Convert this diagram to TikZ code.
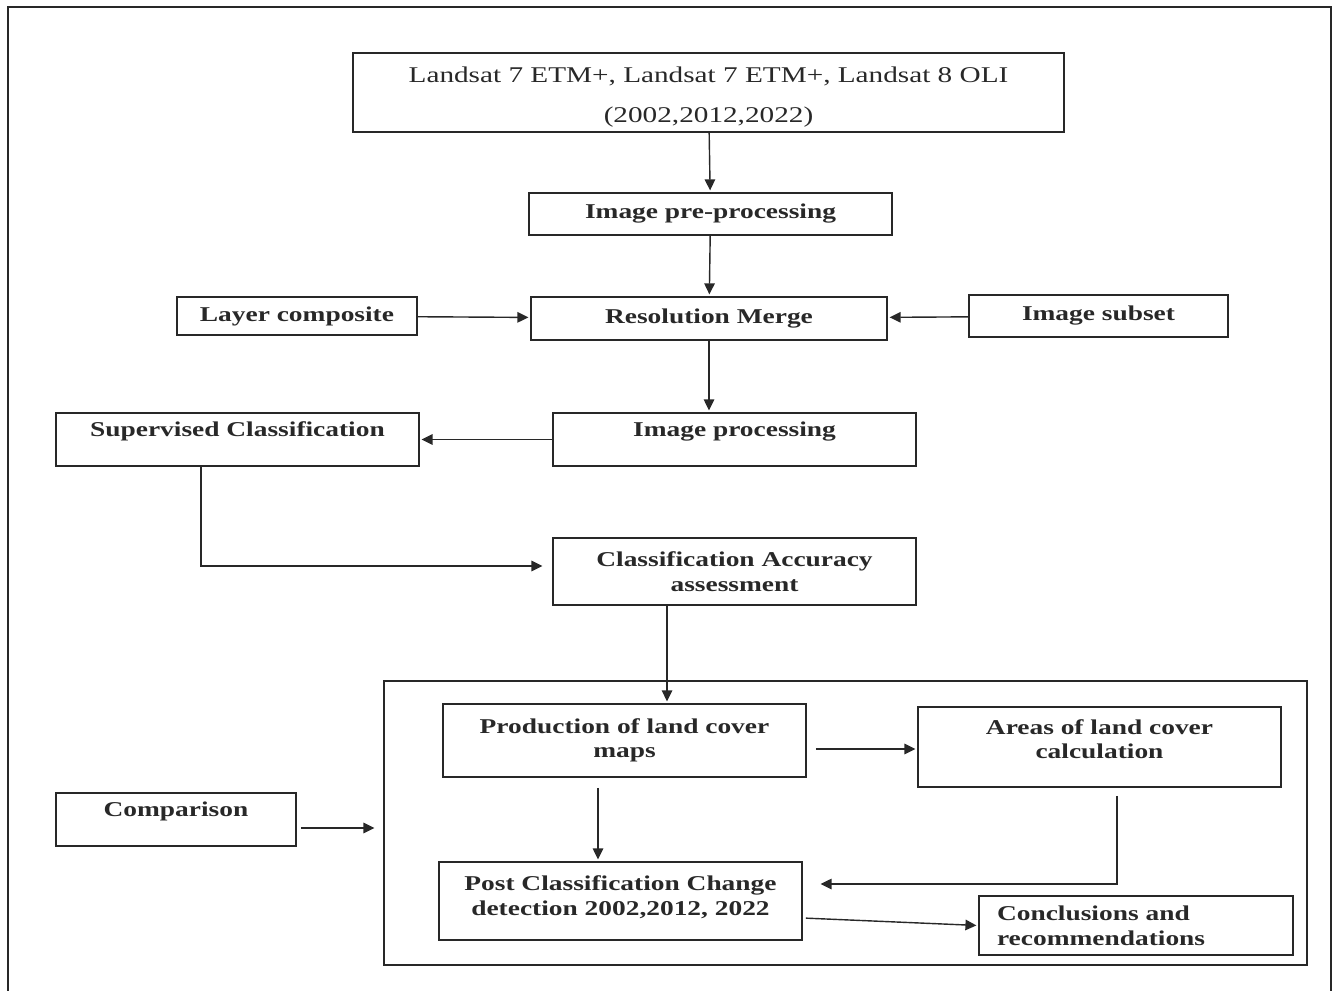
\documentclass[tikz,border=0pt]{standalone}
\usepackage{fontspec}
\setmainfont{Liberation Serif}[FakeStretch=1.3]
\usepackage{tikz}
\usetikzlibrary{arrows.meta,positioning}
\definecolor{lcink}{RGB}{40,40,40}

\begin{document}
\begin{tikzpicture}[x=0.02cm, y=-0.02cm,
  box/.style={rectangle, draw=lcink, line width=1pt, text=lcink, align=center,
              font=\fontsize{12}{14}\selectfont\bfseries, inner sep=3pt},
  raised/.style={text depth=11.5pt},
  frame/.style={rectangle, draw=lcink, line width=1pt, minimum width=18.46cm, minimum height=5.68cm},
  arr/.style={-{Triangle[length=2.2mm, width=2.1mm]}, line width=0.8pt, lcink, shorten >=1pt}]

\useasboundingbox (0,0) rectangle (1334,990);
\draw[lcink, line width=1pt] (8,1000) -- (8,7) -- (1331,7) -- (1331,1000);

\node[box, minimum width=14.22cm, minimum height=1.5cm, font=\fontsize{12.8}{22.8}\selectfont]
  (src) at (708.5,92.5) {\mbox{}\\[-9pt]Landsat 7 ETM+, Landsat 7 ETM+, Landsat 8 OLI\\(2002,2012,2022)};
\node[box, minimum width=7.26cm, minimum height=0.84cm] (pre) at (710.5,214) {Image pre-processing};
\node[box, minimum width=7.12cm, minimum height=0.86cm] (merge) at (709,318.5) {Resolution Merge};
\node[box, minimum width=4.8cm, minimum height=0.76cm] (layer) at (297,316) {Layer composite};
\node[box, minimum width=5.18cm, minimum height=0.84cm] (subset) at (1098.5,316) {Image subset};
\node[box, raised, minimum width=7.26cm, minimum height=1.06cm] (improc) at (734.5,439.5) {Image processing};
\node[box, raised, minimum width=7.26cm, minimum height=1.06cm] (superv) at (237.5,439.5) {Supervised Classification};
\node[box, minimum width=7.26cm, minimum height=1.34cm] (accur) at (734.5,571.5) {Classification Accuracy\\assessment};
\node[frame] (pool) at (845.5,823) {};
\node[box, minimum width=7.26cm, minimum height=1.46cm] (prod) at (624.5,740.5) {Production of land cover\\maps};
\node[box, minimum width=7.26cm, minimum height=1.6cm] (areas) at (1099.5,747) {Areas of land cover\\calculation\\[-5pt]\mbox{}};
\node[box, raised, minimum width=4.8cm, minimum height=1.06cm] (comp) at (176,819.5) {Comparison};
\node[box, minimum width=7.26cm, minimum height=1.56cm] (post) at (620.5,901) {Post Classification Change\\detection 2002,2012, 2022\\[-7.5pt]\mbox{}};
\node[box, align=left, text width=5.56cm, inner xsep=0.36cm, minimum height=1.18cm] (concl) at (1136,925.5) {Conclusions and\\recommendations};

\draw[arr] (src) -- (pre);
\draw[arr] (pre) -- (merge);
\draw[arr] (layer) -- (merge);
\draw[arr] (subset) -- (merge);
\draw[arr] (merge.south) -- (merge.south |- improc.north);
\draw[arr] (improc) -- (superv);
\draw[arr] ([xshift=-0.73cm]superv.south) |- ([xshift=-0.16cm, yshift=0.11cm]accur.west);
\draw[arr] ([xshift=-1.35cm]accur.south) -- ([xshift=-1.35cm]accur.south |- prod.north);
\draw[arr, shorten <=0.18cm] ([yshift=-0.17cm]prod.east) -- ([yshift=-0.17cm]prod.east -| areas.west);
\draw[arr, shorten <=0.08cm] ([yshift=-0.17cm]comp.east) -- ([xshift=-0.14cm, yshift=-0.17cm]comp.east -| pool.west);
\draw[arr, shorten <=0.2cm] ([xshift=-0.53cm]prod.south) -- ([xshift=-0.53cm]prod.south |- post.north);
\draw[arr, shorten <=0.16cm] ([xshift=0.35cm]areas.south) |- ([xshift=0.32cm, yshift=0.34cm]post.east);
\draw[arr, shorten <=0.06cm] ([yshift=-0.34cm]post.east) -- (concl.west);
\end{tikzpicture}
\end{document}
